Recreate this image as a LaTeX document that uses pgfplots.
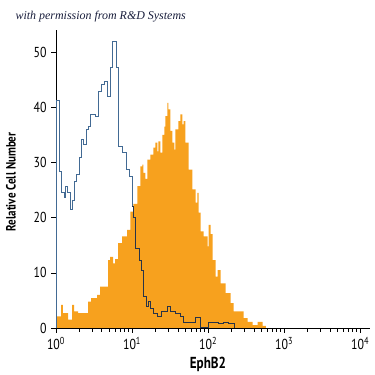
\documentclass[border=0pt]{standalone}
\usepackage{pgfplots}
\usepackage{pgfplotstable}
\pgfplotsset{compat=1.18}
\usepackage{fontspec}
\setmainfont{PT Sans}[FakeStretch=0.82]
\newfontfamily\permfont{Liberation Serif}
\definecolor{facs}{RGB}{247,161,30}
\definecolor{ctrlA}{RGB}{66,106,148}
\definecolor{ctrlB}{RGB}{40,52,72}
\definecolor{navy}{RGB}{25,30,60}
\pgfplotstableread{
d v
0 2.1
0.066 4.2
0.092 2.7
0.158 1.5
0.211 4.2
0.238 3.0
0.290 2.7
0.422 4.8
0.462 5.4
0.541 6.0
0.581 7.5
0.686 12.3
0.713 12.9
0.752 11.7
0.779 12.5
0.818 15.4
0.871 16.6
0.937 17.8
0.977 21.1
1.017 22.5
1.069 25.7
1.109 29.3
1.135 29.6
1.149 28.1
1.175 27.0
1.201 30.5
1.241 31.4
1.281 32.7
1.307 33.6
1.333 32.0
1.347 33.8
1.373 31.8
1.399 35.0
1.426 36.5
1.439 38.4
1.465 40.8
1.479 39.6
1.505 35.7
1.531 33.6
1.558 32.3
1.571 36.0
1.611 37.5
1.637 38.7
1.663 36.9
1.677 37.5
1.703 33.6
1.743 28.7
1.795 25.1
1.835 22.7
1.861 24.5
1.875 20.9
1.901 17.5
1.941 16.6
1.993 14.8
2.007 18.7
2.033 17.0
2.059 12.3
2.099 9.3
2.125 10.5
2.165 8.1
2.231 6.3
2.297 4.5
2.337 3.0
2.469 1.8
2.521 1.1
2.587 0.5
2.653 1.1
2.693 1.1
2.719 0.4
2.759 0
}\sampletab
\pgfplotstableread{
d v
0 0
0 41.3
0.044 28.4
0.075 24.5
0.106 23.6
0.128 25.7
0.154 24.5
0.185 21.4
0.216 23.2
0.238 26.6
0.273 27.8
0.308 30.9
0.334 34.1
0.365 33.2
0.396 36.0
0.427 36.6
0.458 38.7
0.519 38.4
0.559 42.9
0.603 44.1
0.638 44.7
0.678 42.0
0.713 47.2
0.744 52.0
0.788 47.2
0.823 32.9
0.867 31.8
0.924 28.7
0.968 27.5
0.999 22.0
}\ctrltabA
\pgfplotstableread{
d v
0.999 22.0
1.020 20.0
1.043 14.5
1.100 12.3
1.118 10.5
1.144 5.7
1.184 3.9
1.21 4.8
1.24 3.6
1.285 2.7
1.33 2.1
1.386 3.0
1.46 3.9
1.505 3.0
1.57 2.7
1.637 2.1
1.68 1.1
1.84 1.9
1.90 0.1
2.0 1.1
2.14 0.8
2.2 1.1
2.27 0.8
2.35 0
}\ctrltabB
\begin{document}
\begin{tikzpicture}
\begin{axis}[
  name=ax,
  scale only axis,
  width=314bp, height=298bp,
  xmin=0, xmax=4.13, ymin=0, ymax=54,
  axis x line*=bottom, axis y line*=left,
  axis line style={black, line width=0.8pt},
  xtick={0,1,2,3,4},
  xticklabels={10\textsuperscript{0},10\textsuperscript{1},10\textsuperscript{2},10\textsuperscript{3},10\textsuperscript{4}},
  minor xtick={0.301,0.477,0.602,0.699,0.778,0.845,0.903,0.954,
    1.301,1.477,1.602,1.699,1.778,1.845,1.903,1.954,
    2.301,2.477,2.602,2.699,2.778,2.845,2.903,2.954,
    3.301,3.477,3.602,3.699,3.778,3.845,3.903,3.954},
  ytick={0,10,20,30,40,50},
  tick align=outside,
  major tick length=5bp, minor tick length=4bp,
  tick style={black, line width=0.6pt},
  ticklabel style={font=\fontsize{14.5}{14.5}\selectfont},
  yticklabel style={/pgf/number format/assume math mode=true, xshift=-1bp},
  xticklabel style={yshift=-1bp},
  xlabel={\textbf{EphB2}},
  ylabel={\textbf{Relative Cell Number}},
  xlabel style={at={(axis description cs:0.484,-0.1208)}, anchor=center, font=\fontsize{16}{16}\selectfont},
  ylabel style={at={(axis description cs:-0.1433,0.49)}, anchor=center, font=\fontsize{13.5}{13.5}\selectfont},
  clip=false,
]
\addplot[const plot, fill=facs, draw=none] table[x=d, y=v] {\sampletab} \closedcycle;
\addplot[const plot, color=ctrlA, line width=0.8pt] table[x=d, y=v] {\ctrltabA};
\addplot[const plot, color=ctrlB, line width=0.8pt] table[x=d, y=v] {\ctrltabB};
\node[anchor=west, text=navy, font=\permfont\itshape\fontsize{12}{12}\selectfont] at (axis description cs:-0.140,1.044) {with permission from R\&D Systems};
\end{axis}
\pgfresetboundingbox
\path ([shift={(-56bp,-47bp)}]ax.south west) rectangle ([shift={(5bp,30bp)}]ax.north east);
\end{tikzpicture}
\end{document}
